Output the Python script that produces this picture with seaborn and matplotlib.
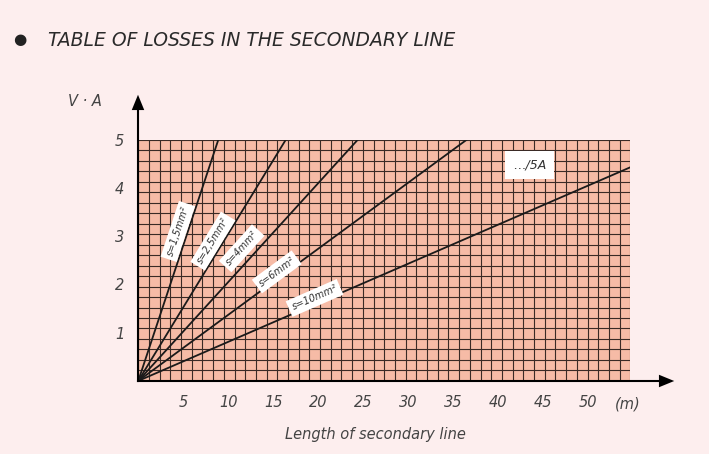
import numpy as np
import pandas as pd
import matplotlib
matplotlib.use("Agg")
import matplotlib.pyplot as plt
import seaborn as sns

# Cable sections and VA loss per metre
sections = ["s=1,5mm²", "s=2,5mm²", "s=4mm²", "s=6mm²", "s=10mm²"]
va_per_m = [0.562, 0.305, 0.205, 0.137, 0.081]
label_x = [4.4, 8.3, 11.5, 15.4, 19.6]
label_y = [3.1, 2.9, 2.75, 2.26, 1.72]
x_ticks = [5, 10, 15, 20, 25, 30, 35, 40, 45, 50]
y_ticks = [1, 2, 3, 4, 5]

XMAX, YMAX = 54.7, 5.0
PX_X, PX_Y = 8.95, 48.2  # pixels per unit, for label rotation

bg = "#fdeeee"
fig = plt.figure(figsize=(7.09, 4.54), dpi=100, facecolor=bg)
ax = fig.add_axes([0.195, 0.161, 0.694, 0.531])
ax.set_facecolor("#f6bba6")

# grid
for gx in np.linspace(0, XMAX, 47):
    ax.axvline(gx, color="#3a2a25", lw=0.8, zorder=1)
for gy in np.linspace(0, YMAX, 24):
    ax.axhline(gy, color="#3a2a25", lw=0.8, zorder=1)

rows = []
for name, k in zip(sections, va_per_m):
    xend = min(XMAX, YMAX / k)
    rows += [{"s": name, "x": 0, "y": 0}, {"s": name, "x": xend, "y": xend * k}]
df = pd.DataFrame(rows)
sns.lineplot(data=df, x="x", y="y", units="s", estimator=None, color="#1a1a1a",
             lw=1.3, ax=ax, zorder=3, legend=False)

for name, k, lx, ly in zip(sections, va_per_m, label_x, label_y):
    ang = np.degrees(np.arctan(k * PX_Y / PX_X))
    ax.text(lx, ly, name, rotation=ang, ha="center", va="center", fontsize=7,
            style="italic", color="#333333", zorder=4, rotation_mode="anchor",
            bbox=dict(facecolor="white", edgecolor="none", pad=2.5))
ax.text(43.5, 4.48, "…/5A", ha="center", va="center", fontsize=9, style="italic",
        color="#333333", zorder=4,
        bbox=dict(facecolor="white", edgecolor="none", boxstyle="square,pad=0.6"))

ax.set_xlim(0, XMAX)
ax.set_ylim(0, YMAX)
for sp in ax.spines.values():
    sp.set_visible(False)
ax.set_xticks(x_ticks)
ax.set_yticks(y_ticks)
ax.tick_params(length=0, labelsize=10.5, labelcolor="#444444", pad=10)
for t in ax.get_xticklabels() + ax.get_yticklabels():
    t.set_style("italic")
ax.set_xlabel("")
ax.set_ylabel("")

# axes arrows
fig.add_artist(plt.Line2D([138/709, 660/709], [1-381/454, 1-381/454], color="black", lw=1.5))
fig.add_artist(plt.Line2D([138/709, 138/709], [1-381/454, 1-108/454], color="black", lw=1.5))
ax.annotate("", xy=(677/709, 1-381/454), xytext=(655/709, 1-381/454), xycoords="figure fraction",
            arrowprops=dict(arrowstyle="-|>,head_length=1.1,head_width=0.45", color="black", lw=0))
ax.annotate("", xy=(138/709, 1-92/454), xytext=(138/709, 1-112/454), xycoords="figure fraction",
            arrowprops=dict(arrowstyle="-|>,head_length=1.1,head_width=0.45", color="black", lw=0))

fig.text(628/709, 1-404/454, "(m)", fontsize=10.5, style="italic", color="#444444", ha="center", va="center")
fig.text(375/709, 1-435/454, "Length of secondary line", fontsize=10.5, style="italic",
         color="#444444", ha="center", va="center")
fig.text(85/709, 1-101/454, "V · A", fontsize=10.5, style="italic", color="#444444", ha="center", va="center")
fig.text(20/709, 1-40/454, "●", fontsize=11, color="#222222", ha="center", va="center")
fig.text(48/709, 1-40/454, "TABLE OF LOSSES IN THE SECONDARY LINE", fontsize=13.5, style="italic",
         color="#2a2a2a", ha="left", va="center")

fig.savefig("out.png", dpi=100, facecolor=bg)
